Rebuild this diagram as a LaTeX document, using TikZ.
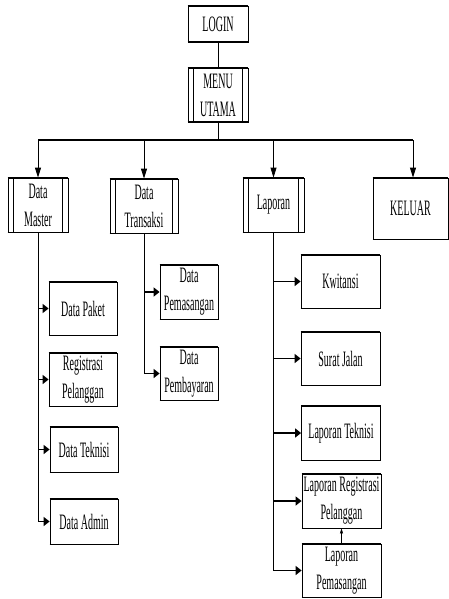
\documentclass[tikz,border=0pt]{standalone}
\usepackage{fontspec}
\setmainfont[FakeStretch=0.455]{Liberation Serif}
\usetikzlibrary{positioning,arrows.meta}

\begin{document}
\begin{tikzpicture}[x=1pt, y=-1pt, line width=0.8pt,
	font=\fontsize{22}{28}\selectfont,
	menubox/.style={draw, align=center, inner sep=0pt, minimum width=60pt, minimum height=54pt},
	down/.style={-{Triangle[length=10pt,width=6pt]}},
	side/.style={line width=1.6pt, -{Triangle[length=6pt,width=9pt]}}]
	\useasboundingbox (0,0) rectangle (449,599);
	% login dan menu utama
	\node[menubox, minimum height=36pt] (login) at (218,24) {LOGIN};
	\node[menubox] (menu) at (218,95) {MENU\\UTAMA};
	% menu level 1
	\node[menubox] (master) at (38,205) {Data\\Master};
	\node[menubox, minimum width=68pt] (transaksi) at (144,206) {Data\\Transaksi};
	\node[menubox, minimum width=61pt] (laporan) at (273.5,205) {Laporan};
	\node[menubox, minimum width=75pt, minimum height=61pt] (keluar) at (410.5,208.5) {KELUAR};
	% data master
	\node[menubox, minimum width=68pt, minimum height=53pt] (paket) at (83,308.5) {Data Paket};
	\node[menubox, minimum width=68pt, minimum height=53pt] (registrasi) at (83,379.5) {Registrasi\\Pelanggan};
	\node[menubox, minimum width=68pt, minimum height=45pt] (teknisi) at (84,449.5) {Data Teknisi};
	\node[menubox, minimum width=68pt, minimum height=45pt] (admin) at (84,521.5) {Data Admin};
	% data transaksi
	\node[menubox, minimum width=58pt] (pemasangan) at (189,292) {Data\\Pemasangan};
	\node[menubox, minimum width=58pt, minimum height=53pt] (pembayaran) at (189,373.5) {Data\\Pembayaran};
	% laporan
	\node[menubox, minimum width=79pt, minimum height=53pt] (kwitansi) at (340.5,281.5) {Kwitansi};
	\node[menubox, minimum width=79pt, minimum height=53pt] (surat) at (340.5,358.5) {Surat Jalan};
	\node[menubox, minimum width=79pt] (lapteknisi) at (341,433) {Laporan Teknisi};
	\node[menubox, minimum width=79pt] (lapreg) at (341.5,501) {Laporan Registrasi\\Pelanggan};
	\node[menubox, minimum width=79pt, minimum height=53pt] (lappasang) at (341.5,570.5) {Laporan\\Pemasangan};

	% garis tepi atas dan bawah lebih tebal
	\foreach \n in {login,menu,master,transaksi,laporan,keluar,paket,registrasi,teknisi,admin,
		pemasangan,pembayaran,kwitansi,surat,lapteknisi,lapreg,lappasang}
		\draw[line width=1.8pt] (\n.north west) -- (\n.north east) (\n.south west) -- (\n.south east);
	% garis dalam (proses)
	\foreach \n in {menu,master,transaksi,laporan}
		\draw ([xshift=6pt]\n.north west) -- ([xshift=6pt]\n.south west)
			([xshift=-6pt]\n.north east) -- ([xshift=-6pt]\n.south east);

	% penghubung
	\draw (login) -- (menu);
	\coordinate (bus) at (218,140);
	\coordinate (busL) at (master.north |- bus);
	\coordinate (busR) at (413,140);
	\draw (menu.south) -- (bus);
	\draw[line width=2pt] (busL) -- (busR);
	\foreach \n in {master,transaksi,laporan}
		\draw[down] (\n.north |- bus) -- (\n.north);
	\draw[down] (busR) -- (busR |- keluar.north);

	\draw (master.south) -- (master.south |- admin.west);
	\foreach \n in {paket,registrasi,teknisi,admin}
		\draw[side] (master.south |- \n.west) -- (\n.west);
	\draw (transaksi.south) -- (transaksi.south |- pembayaran.west);
	\foreach \n in {pemasangan,pembayaran}
		\draw[side] (transaksi.south |- \n.west) -- (\n.west);
	\draw (laporan.south) -- (laporan.south |- lappasang.west);
	\foreach \n in {kwitansi,surat,lapteknisi,lapreg,lappasang}
		\draw[side] (laporan.south |- \n.west) -- (\n.west);
	\draw[line width=0.5pt, -{Triangle[length=5pt,width=3pt]}] (lappasang.north) -- (lapreg.south);
\end{tikzpicture}
\end{document}
